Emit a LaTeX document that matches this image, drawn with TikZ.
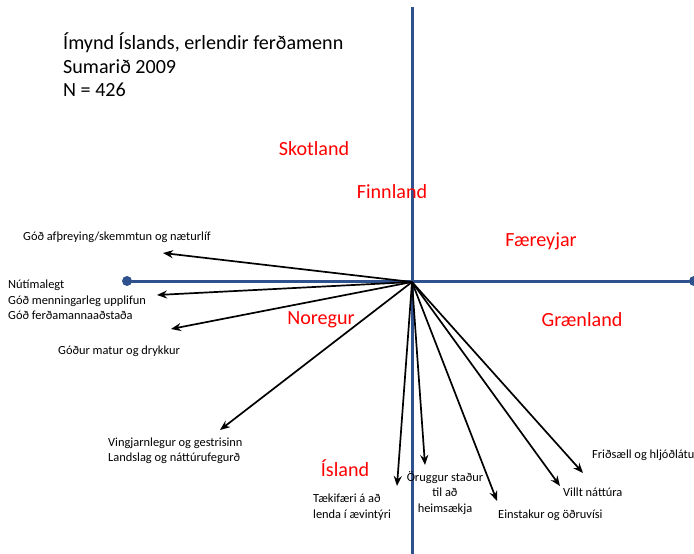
\documentclass[tikz,border=0pt]{standalone}
\usepackage{fontspec}
\setmainfont{Carlito}
\usetikzlibrary{arrows.meta}
\definecolor{axisblue}{RGB}{47,82,143}
\tikzset{
  axis/.style={draw=axisblue, line width=3pt},
  vec/.style={draw=black, line width=1.7pt, -{Stealth[length=10pt,width=8pt]}},
  title/.style={anchor=west, inner sep=0pt, font=\fontsize{20.1}{23.5}\selectfont, align=left},
  country/.style={inner sep=0pt, text=red, font=\fontsize{20.1}{22}\selectfont},
  lbl/.style={inner sep=0pt, font=\fontsize{12.4}{15.5}\selectfont},
}
\begin{document}
\begin{tikzpicture}[x=1pt,y=-1pt]
\useasboundingbox (0,0) rectangle (694,554);
% axes
\coordinate (vtop) at (412,7);
\coordinate (vbot) at (412,556);
\coordinate (hl) at (127,281);
\coordinate (hr) at (694,281);
\draw[axis] (vtop) -- (vbot);
\draw[axis] (hl) -- (hr);
\fill[axisblue] (hl) circle (5pt);
\fill[axisblue] (hr) circle (5pt);
% origin and arrow ends
\coordinate (O) at (412,282);
\coordinate (e1) at (163,253);
\coordinate (e2) at (157,295);
\coordinate (e3) at (171,329);
\coordinate (e4) at (220,430);
\coordinate (e5) at (397,486);
\coordinate (e6) at (425,465);
\coordinate (e7) at (497,501);
\coordinate (e8) at (560,486);
\coordinate (e9) at (583,473);
\foreach \e in {e1,e2,e3,e4,e5,e6,e7,e8,e9} \draw[vec] (O) -- (\e);
% title
\node[title] (t1) at (63,43) {Ímynd Íslands, erlendir ferðamenn};
\node[title] (t2) at (63,67) {Sumarið 2009};
\node[title] (t3) at (63,90) {N = 426};
% countries
\node[country] (sk) at (314,149) {Skotland};
\node[country] (fi) at (392,192) {Finnland};
\node[country] (fa) at (541,241) {Færeyjar};
\node[country] (gr) at (582,320) {Grænland};
\node[country] (no) at (321,320) {Noregur};
\node[country] (is) at (345,468) {Ísland};
% labels
\node[lbl, anchor=west] (l1) at (23,237) {Góð afþreying/skemmtun og næturlíf};
\node[lbl, anchor=west, align=left] (l2) at (8,300) {Nútímalegt\\Góð menningarleg upplifun\\Góð ferðamannaaðstaða};
\node[lbl, anchor=west] (l3) at (58,351) {Góður matur og drykkur};
\node[lbl, anchor=west, align=left] (l4) at (108,451) {Vingjarnlegur og gestrisinn\\Landslag og náttúrufegurð};
\node[lbl, anchor=west, align=left] (l5) at (313,507) {Tækifæri á að\\lenda í ævintýri};
\node[lbl, align=center] (l6) at (445,493) {Öruggur staður\\til að\\heimsækja};
\node[lbl, anchor=west] (l7) at (498,515) {Einstakur og öðruvísi};
\node[lbl, anchor=west] (l8) at (563,492) {Villt náttúra};
\node[lbl, anchor=west] (l9) at (592,455) {Friðsæll og hljóðlátu};
\end{tikzpicture}
\end{document}
